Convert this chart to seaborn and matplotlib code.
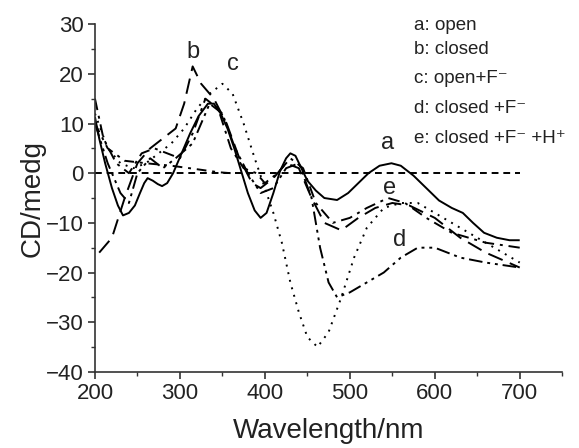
import numpy as np
import pandas as pd
import matplotlib
matplotlib.use("Agg")
import matplotlib.pyplot as plt
import seaborn as sns
from matplotlib.ticker import MultipleLocator

# ---- data ----
a_x = [200, 205, 212, 220, 227, 233, 240, 247, 253, 258, 262, 268, 274, 279, 285, 292, 302, 312, 322, 333, 340, 348, 356, 364, 372, 380, 388, 395, 402, 410, 418, 425, 430, 436, 443, 450, 460, 470, 485, 498, 510, 522, 535, 549, 560, 575, 590, 605, 620, 633, 645, 658, 673, 688, 700]
a_y = [11.3, 7, 2, -3, -6.5, -8.5, -8, -6.5, -4, -2, -1, -1.5, -2.2, -2.6, -2, 0, 4, 8, 11.5, 14, 14, 12, 9, 5, 0.5, -4, -7.5, -9, -8, -4, 0.5, 3, 4, 3.5, 1, -1.5, -3.5, -5, -5.4, -4, -2, 0, 1.5, 2, 1.5, -0.5, -3, -5.5, -7, -8, -10, -12, -13, -13.5, -13.5]

b_x = [205, 220, 235, 250, 265, 280, 295, 305, 315, 325, 340, 355, 370, 385, 395, 410, 425, 440, 455, 470, 490, 510, 530, 550, 570, 600, 630, 660, 700]
b_y = [-16, -13, -5, 2, 5, 7, 9, 14, 21.5, 18, 15, 10, 3, -2, -3, -1, 2, 1, -5, -10, -11.5, -9, -7, -6, -6.5, -9, -13, -16, -19]

c_x = [200, 215, 230, 245, 260, 275, 290, 305, 320, 335, 350, 362, 375, 388, 400, 410, 420, 430, 440, 450, 462, 475, 490, 505, 520, 540, 560, 580, 600, 630, 660, 700]
c_y = [12, 5, 2, 1, 2, 4, 6, 9, 13, 16, 18, 16, 10, 3, -3, -8, -14, -22, -28, -33, -35, -32, -25, -17, -11, -7, -6, -6, -8, -11, -14, -18]

d_x = [200, 215, 230, 240, 250, 265, 280, 295, 315, 335, 350, 365, 380, 395, 410, 425, 440, 455, 465, 475, 485, 500, 520, 540, 560, 580, 600, 630, 660, 700]
d_y = [10, 2, -4, -6, 0, 3, 1, 3, 6, 14, 12, 5, 0, -4, -3, 1, 2, -5, -15, -22, -25, -24, -22, -20, -17, -15, -15, -17, -18, -19]

e_x = [200, 210, 225, 240, 255, 270, 285, 300, 315, 330, 345, 360, 375, 390, 400, 415, 430, 445, 460, 480, 500, 520, 545, 565, 590, 620, 660, 700]
e_y = [15, 7, 2, 0, 4, 5, 4, 3, 8, 15, 13, 5, 1, 0, -2, 0, 3, 1, -6, -10, -9, -7, -5, -6, -9, -12, -14, -15]

f_x = [200, 215, 235, 260, 290, 320, 345, 360]
f_y = [10, 5, 2.5, 2, 1.5, 0.8, 0.2, 0]

base_x = [200, 700]
base_y = [0, 0]

legend_lines = ["a: open", "b: closed", "c: open+F\u207b", "d: closed +F\u207b", "e: closed +F\u207b +H\u207a"]
curve_labels = ["a", "b", "c", "d", "e"]
label_x = [545, 315, 362, 559, 547]
label_y = [6, 24.5, 22, -13.5, -3]

x_ticks = [200, 300, 400, 500, 600, 700]
y_ticks = [-40, -30, -20, -10, 0, 10, 20, 30]

# ---- plot ----
sns.set_theme(style="ticks")
plt.rcParams['font.family'] = ['Liberation Sans', 'DejaVu Sans']

fig = plt.figure(figsize=(5.79, 4.48), dpi=100)
ax = fig.add_axes([0.164, 0.170, 0.807, 0.776])

lw = 1.4
series = [
    (a_x, a_y, (0, ())),
    (b_x, b_y, (0, (8, 4))),
    (c_x, c_y, (0, (1, 3))),
    (d_x, d_y, (0, (7, 2.5, 1.5, 2.5, 1.5, 2.5))),
    (e_x, e_y, (0, (6, 3, 1.5, 3))),
    (f_x, f_y, (0, (5, 3, 1.5, 3))),
    (base_x, base_y, (0, (3.5, 2.5))),
]
for xs, ys, ls in series:
    df = pd.DataFrame({"x": xs, "y": ys})
    sns.lineplot(data=df, x="x", y="y", ax=ax, color="black", linewidth=lw,
                 linestyle=ls, sort=False)

ax.set_xlim(200, 750)
ax.set_ylim(-40, 30)
ax.set_xticks(x_ticks)
ax.set_yticks(y_ticks)
ax.xaxis.set_minor_locator(MultipleLocator(50))
ax.yaxis.set_minor_locator(MultipleLocator(5))
ax.tick_params(axis='both', which='major', labelsize=16, length=5, width=1.2, direction='out', color='#333333', labelcolor='#222222', pad=3)
ax.tick_params(axis='both', which='minor', length=3, width=1.0, direction='out', color='#333333')
for s in ['top', 'right']:
    ax.spines[s].set_visible(False)
for s in ['left', 'bottom']:
    ax.spines[s].set_linewidth(1.2)
    ax.spines[s].set_color('#333333')

ax.set_xlabel("Wavelength/nm", fontsize=20, color='#222222', labelpad=10)
ax.set_ylabel("CD/medg", fontsize=20, color='#222222', labelpad=0)

for t, lx, ly in zip(curve_labels, label_x, label_y):
    ax.text(lx, ly, t, fontsize=17, ha='center', va='center', color='#222222')

leg_y = [29.8, 25, 19.1, 13.1, 7.0]
for t, ly in zip(legend_lines, leg_y):
    ax.text(576, ly, t, fontsize=13.5, ha='left', va='center', color='#222222')

fig.savefig("out.png", dpi=100)
